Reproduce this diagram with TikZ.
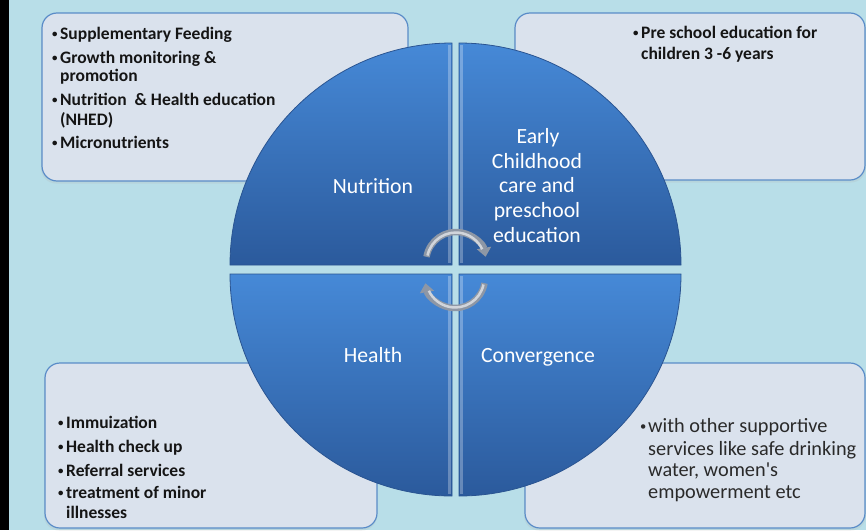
\documentclass[tikz,border=0pt]{standalone}
\usepackage{fontspec}
\setmainfont{Carlito}
\newfontfamily\brfont{Carlito}[Ligatures=TeXOff]
\usetikzlibrary{arrows.meta}
\definecolor{bgc}{HTML}{B8DEE8}
\definecolor{boxfill}{HTML}{DAE2ED}
\definecolor{boxline}{HTML}{5A8CC8}
\definecolor{qtop}{HTML}{4689D7}
\definecolor{qbot}{HTML}{2B5A9C}
\definecolor{qrim}{HTML}{2A5491}
\definecolor{txtc}{HTML}{151515}
\definecolor{txtd}{HTML}{2A2A2A}
\definecolor{arrg}{HTML}{8E97A5}
\newcommand{\mybul}{\makebox[8pt][l]{\raisebox{1.6pt}{\scalebox{0.62}{•}}}}
\tikzset{
  infobox/.style={fill=boxfill, draw=boxline, line width=1.2pt, rounded corners=15pt},
  boxshadow/.style={fill=gray!60, opacity=0.22, rounded corners=15pt},
  quad/.style={top color=qtop, bottom color=qbot, draw=qrim, line width=0.8pt},
  bevel/.style={draw=white, opacity=0.28, line width=3pt},
  bt/.style={anchor=base west, inner sep=0pt, font=\fontsize{17.5}{20}\selectfont\bfseries, text=txtc},
  bt2/.style={anchor=base west, inner sep=0pt, font=\brfont\fontsize{20.3}{22}\selectfont, text=txtd},
  ql/.style={anchor=base, inner sep=0pt, font=\fontsize{21.7}{24.7}\selectfont, text=white},
  arcout/.style={line width=6.5pt, draw=arrg, -{Triangle[length=9pt,width=14pt]}},
  arcin/.style={line width=2.5pt, draw=white, opacity=0.6}
}
\begin{document}
\begin{tikzpicture}[x=1pt,y=-1pt]
\useasboundingbox (0,0) rectangle (866,530);
\fill[bgc] (0,0) rectangle (866,530);
\fill[black] (0,0) rectangle (9,530);

% shadows
\fill[boxshadow] (41,15.5) rectangle (408,183.5);
\fill[boxshadow] (514,15.5) rectangle (866,182.5);
\fill[boxshadow] (44,365.5) rectangle (377,530.5);
\fill[boxshadow] (524,365.5) rectangle (866,530.5);

% boxes
\draw[infobox] (42,13) rectangle (408,181);
\draw[infobox] (515,13) rectangle (865,180);
\draw[infobox] (45,363) rectangle (377,528);
\draw[infobox] (525,363) rectangle (865,528);

% quadrants
\path[quad] (452,265) -- (230,265) arc[start angle=180,end angle=270,radius=222] -- cycle;
\path[quad] (459,265) -- (459,43) arc[start angle=270,end angle=360,radius=222] -- cycle;
\path[quad] (459,274) -- (681,274) arc[start angle=0,end angle=90,radius=222] -- cycle;
\path[quad] (452,274) -- (452,496) arc[start angle=90,end angle=180,radius=222] -- cycle;
% bevels on inner straight edges
\draw[bevel] (449.5,45) -- (449.5,263);
\draw[bevel] (461.5,45) -- (461.5,263);
\draw[bevel] (449.5,276) -- (449.5,494);
\draw[bevel] (461.5,276) -- (461.5,494);

% quadrant labels
\node[ql] (nut) at (373,193) {Nutrition};
\node[ql] (hea) at (373,362) {Health};
\node[ql] (con) at (538,362) {Convergence};
\node[ql] (ec1) at (538,143) {Early};
\node[ql] (ec2) at (537,168) {Childhood};
\node[ql] (ec3) at (537,192) {care and};
\node[ql] (ec4) at (537,217) {preschool};
\node[ql] (ec5) at (537,242) {education};

% circular arrows
\draw[arcout] (426.5,256.8) arc[start angle=190,end angle=350,radius=30];
\draw[arcin] (427.5,255.5) arc[start angle=192,end angle=335,radius=29];
\draw[arcout] (484.5,283.2) arc[start angle=10,end angle=170,radius=30];
\draw[arcin] (483.5,284.5) arc[start angle=12,end angle=155,radius=29];

% top-left box text
\node[bt] (tl1) at (52,39) {\mybul Supplementary Feeding};
\node[bt] (tl2) at (52,63) {\mybul Growth monitoring \&};
\node[bt] (tl3) at (60,81) {promotion};
\node[bt] (tl4) at (52,105) {\mybul Nutrition\ \ \& Health education};
\node[bt] (tl5) at (60,125) {(NHED)};
\node[bt] (tl6) at (52,148) {\mybul Micronutrients};

% top-right box text
\node[bt] (tr1) at (633,38) {\mybul Pre school education for};
\node[bt] (tr2) at (641,59) {children 3 -6 years};

% bottom-left box text
\node[bt] (bl1) at (58,428) {\mybul Immuization};
\node[bt] (bl2) at (58,452) {\mybul Health check up};
\node[bt] (bl3) at (58,476) {\mybul Referral services};
\node[bt] (bl4) at (58,498) {\mybul treatment of minor};
\node[bt] (bl5) at (66,518) {illnesses};

% bottom-right box text
\node[bt2] (br1) at (640,432) {\mybul with other supportive};
\node[bt2] (br2) at (648,455) {services like safe drinking};
\node[bt2] (br3) at (648,476) {water, women's};
\node[bt2] (br4) at (648,498) {empowerment etc};
\end{tikzpicture}
\end{document}
